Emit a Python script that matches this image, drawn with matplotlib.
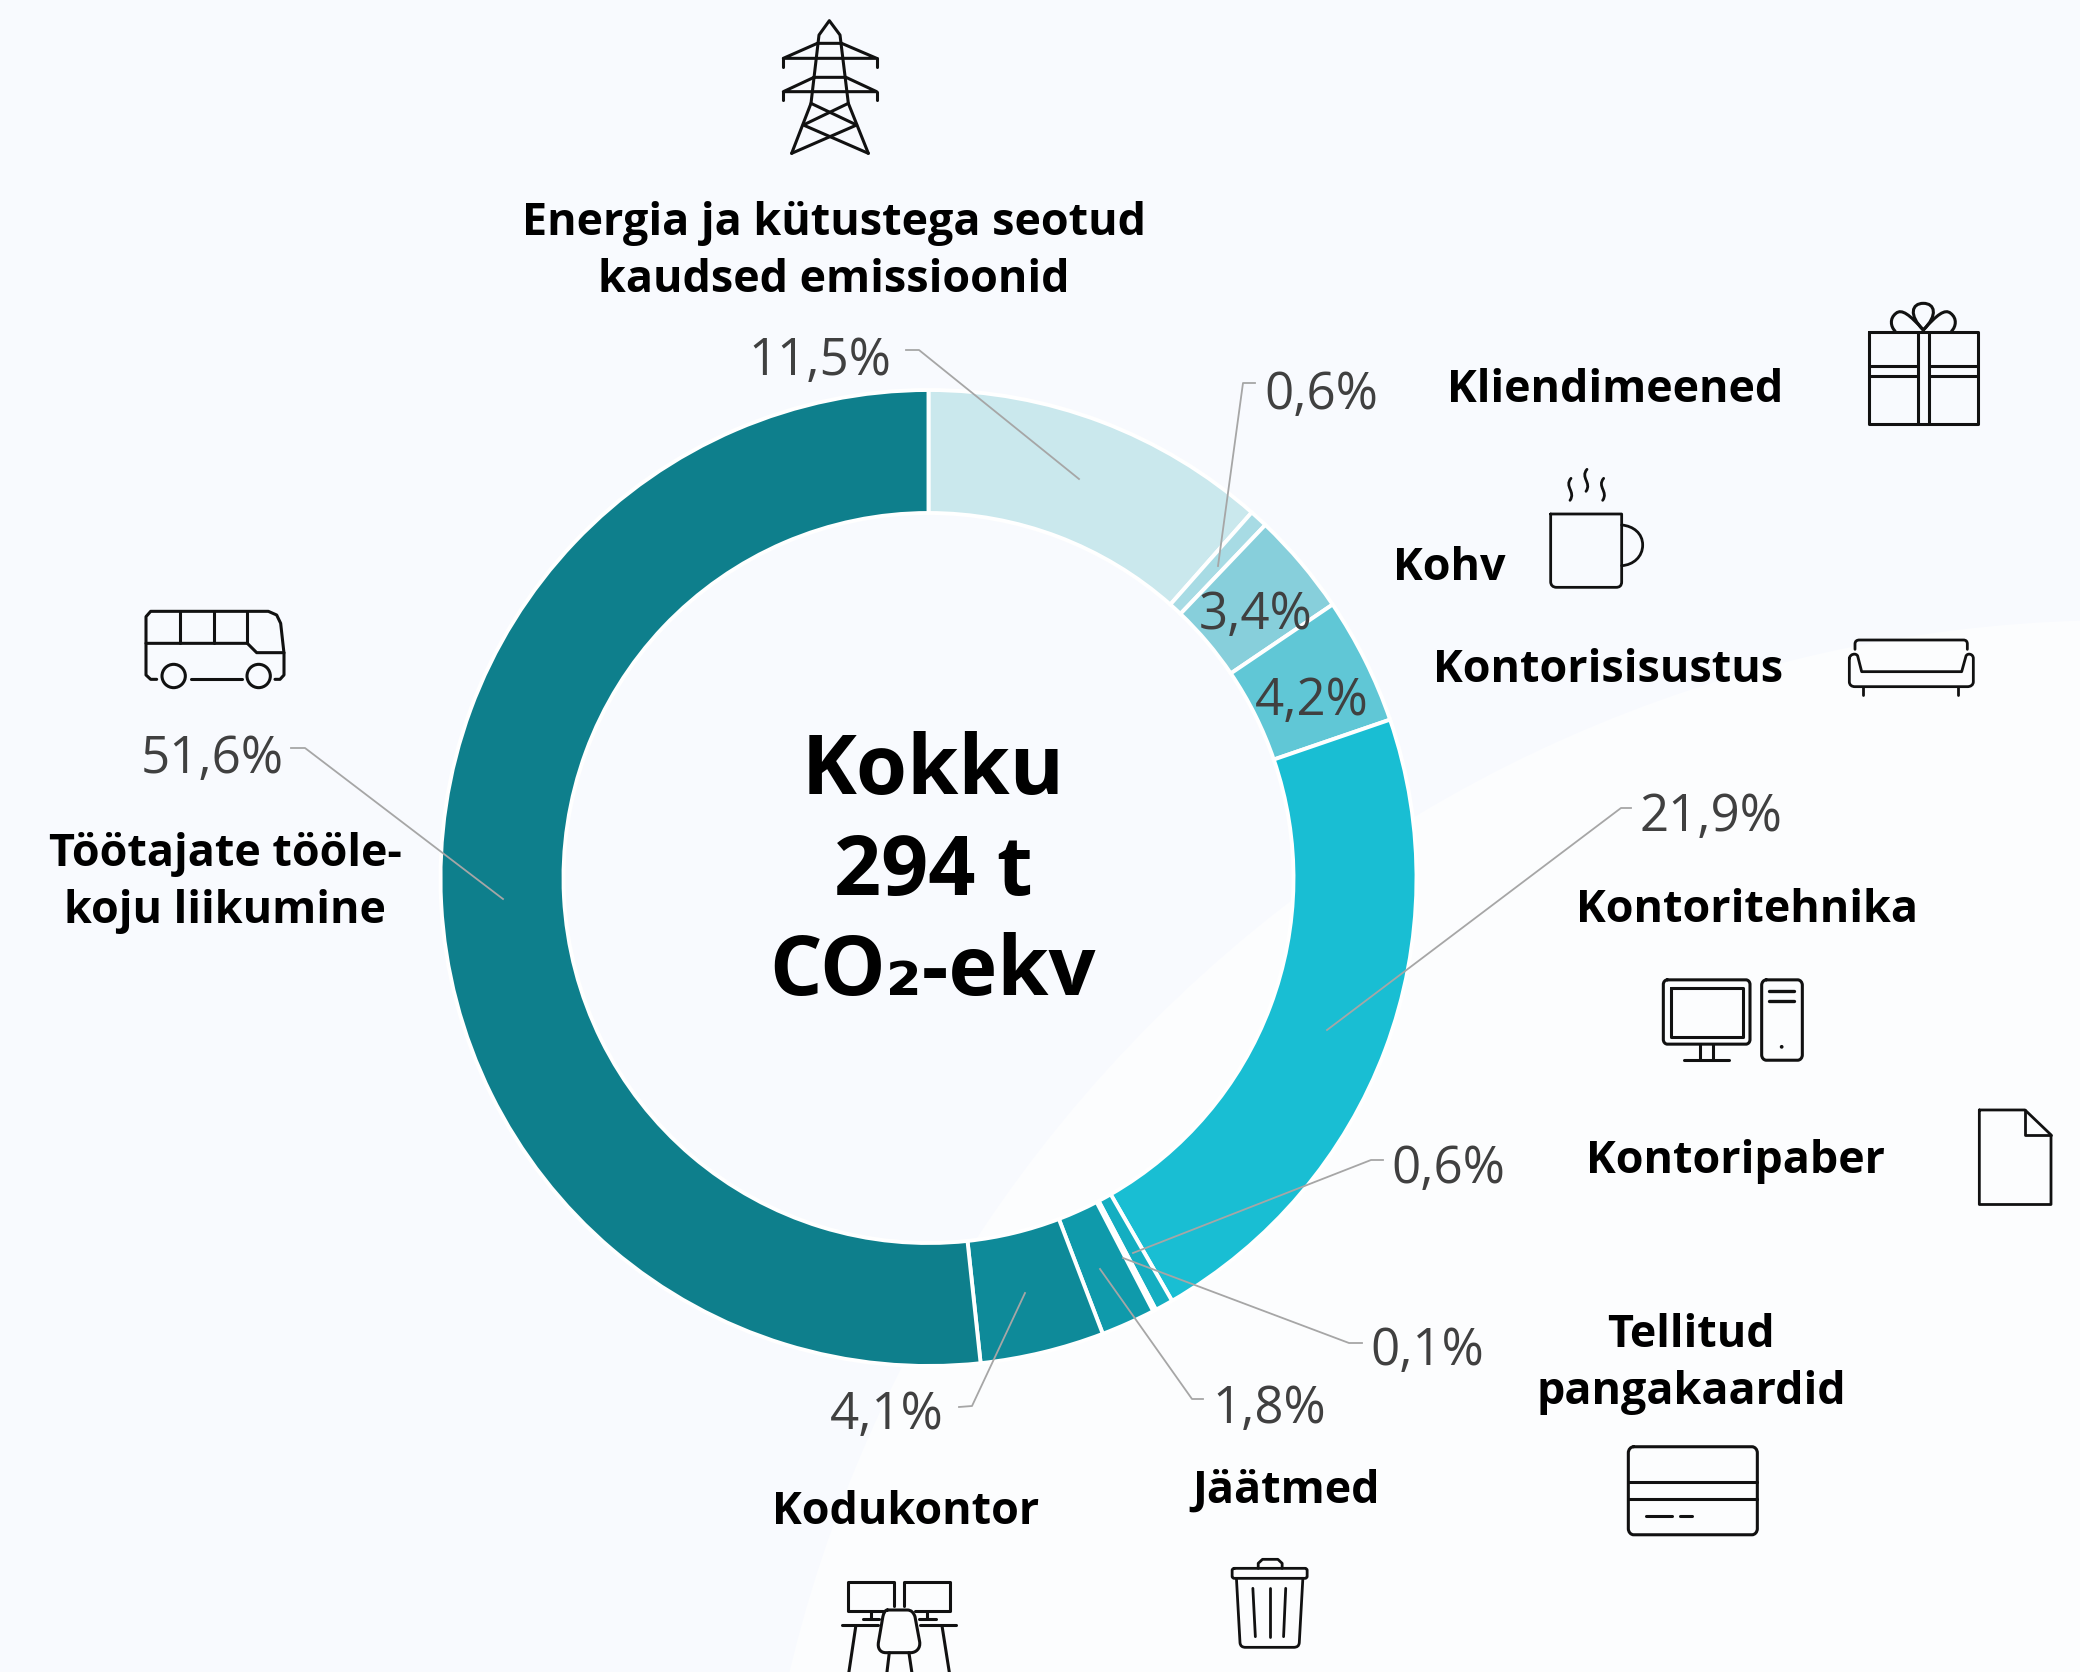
import numpy as np
import matplotlib
matplotlib.use("Agg")
import matplotlib.pyplot as plt
from matplotlib.patches import Circle, PathPatch
from matplotlib.path import Path

W, H = 2080, 1672
FONT = ["Open Sans", "DejaVu Sans"]

# ---- data
shares = [11.5, 0.6, 3.4, 4.2, 21.9, 0.6, 0.1, 1.8, 4.1, 51.6]
share_labels = ["11,5%", "0,6%", "3,4%", "4,2%", "21,9%", "0,6%", "0,1%", "1,8%", "4,1%", "51,6%"]
categories = ["Energia ja kütustega seotud\nkaudsed emissioonid", "Kliendimeened", "Kohv",
              "Kontorisisustus", "Kontoritehnika", "Kontoripaber", "Tellitud\npangakaardid",
              "Jäätmed", "Kodukontor", "Töötajate tööle-\nkoju liikumine"]
colors = ["#CAE8ED", "#A7DBE4", "#87CFDB", "#60C7D6", "#19BED3",
          "#14AEC1", "#12A5B6", "#0F9AAB", "#0E8A99", "#0E7F8C"]
total_text = "Kokku\n294 t\nCO₂-ekv"

# ---- layout (pixels)
CX, CY, R_OUT, R_IN = 928.5, 878, 488, 365
pct_pos = [(820, 361), (1321, 395), (1256, 615), (1312, 701), (1711, 818),
           (1448, 1169), (1427, 1352), (1269, 1410), (887, 1416), (212, 759)]
cat_pos = [(834, 252, "center"), (1783, 390, "right"), (1449, 569, "center"), (1783, 670, "right"),
           (1747, 910, "center"), (1736, 1161, "center"), (1691, 1364, "center"),
           (1286, 1491, "center"), (906, 1513, "center"), (225, 883, "center")]
leaders = [[(906, 350), (919, 350), (1079, 479)],
           [(1255, 383), (1243, 383), (1218, 566)],
           None, None,
           [(1631, 808), (1621, 808), (1327, 1030)],
           [(1383, 1160), (1371, 1160), (1133, 1253)],
           [(1362, 1343), (1349, 1343), (1123, 1258)],
           [(1203, 1399), (1192, 1399), (1100, 1269)],
           [(1025, 1293), (972, 1406), (959, 1407)],
           [(291, 748), (305, 748), (503, 899)]]

fig = plt.figure(figsize=(W / 100, H / 100), dpi=100, facecolor="#F8FAFE")

# background + soft lighter disc
bg = fig.add_axes([0, 0, 1, 1])
bg.set_xlim(0, W); bg.set_ylim(H, 0); bg.axis("off")
bg.add_patch(Circle((2122, 1990), 1370, fc="#FCFDFE", ec="none"))

# donut
span = 1.25 * R_OUT
pie_ax = fig.add_axes([(CX - span) / W, 1 - (CY + span) / H, 2 * span / W, 2 * span / H])
pie_ax.patch.set_alpha(0)
pie_ax.pie(shares, colors=colors, startangle=90, counterclock=False, radius=1,
           wedgeprops=dict(width=1 - R_IN / R_OUT, edgecolor="white", linewidth=2.8))

# overlay in pixel coordinates
ax = fig.add_axes([0, 0, 1, 1])
ax.set_xlim(0, W); ax.set_ylim(H, 0); ax.axis("off"); ax.patch.set_alpha(0)

for seg in leaders:
    if seg:
        ax.plot(*zip(*seg), color="#A6A6A6", lw=1.3, solid_joinstyle="round", zorder=3)
for (x, y), s in zip(pct_pos, share_labels):
    ax.text(x, y, s, ha="center", va="center", fontsize=36.7, color="#404040", family=FONT, zorder=4)
for (x, y, ha), s in zip(cat_pos, categories):
    ax.text(x, y, s, ha=ha, va="center", fontsize=32.3, fontweight="bold", color="black",
            family=FONT, linespacing=1.36, multialignment="center", zorder=4)
ax.text(933, 873, total_text, ha="center", va="center", fontsize=59.5, fontweight="bold",
        color="black", family=FONT, linespacing=1.27, zorder=4)


# ---- icons (decor), drawn from crop coordinates
class Icon:
    def __init__(self, ox, oy, sx=3.0, sy=3.0, lw=2.2):
        self.ox, self.oy, self.sx, self.sy, self.lw = ox, oy, sx, sy, lw

    def p(self, pt):
        return (self.ox + pt[0] / self.sx, self.oy + pt[1] / self.sy)

    def line(self, *pts, close=False, lw=None):
        q = [self.p(t) for t in pts]
        if close:
            q.append(q[0])
        ax.plot(*zip(*q), color="#111111", lw=lw or self.lw, solid_capstyle="round",
                solid_joinstyle="round", zorder=5)

    def curve(self, start, *segs, lw=None):
        verts = [self.p(start)]
        codes = [Path.MOVETO]
        for s in segs:
            verts += [self.p(t) for t in s]
            codes += [Path.CURVE4] * 3
        ax.add_patch(PathPatch(Path(verts, codes), fc="none", ec="#111111", lw=lw or self.lw,
                               capstyle="round", joinstyle="round", zorder=5))

    def rrect(self, x0, y0, x1, y1, r, lw=None):
        k = 0.45 * r
        self.curve((x0 + r, y0),
                   ((x0 + r, y0), (x1 - r, y0), (x1 - r, y0)),
                   ((x1 - k, y0), (x1, y0 + k), (x1, y0 + r)),
                   ((x1, y0 + r), (x1, y1 - r), (x1, y1 - r)),
                   ((x1, y1 - k), (x1 - k, y1), (x1 - r, y1)),
                   ((x1 - r, y1), (x0 + r, y1), (x0 + r, y1)),
                   ((x0 + k, y1), (x0, y1 - k), (x0, y1 - r)),
                   ((x0, y1 - r), (x0, y0 + r), (x0, y0 + r)),
                   ((x0, y0 + k), (x0 + k, y0), (x0 + r, y0)), lw=lw)

    def circle(self, c, r, filled=False, lw=None):
        ax.add_patch(Circle(self.p(c), r / self.sx, fc="#111111" if filled else "none",
                            ec="#111111", lw=lw or self.lw, zorder=5))


# pylon
i = Icon(740, 0)
i.line((155, 460), (213, 310), (237, 105), (268, 62), (300, 105), (325, 310), (385, 460))
i.line((213, 310), (350, 375), (155, 460))
i.line((325, 310), (190, 375), (385, 460))
i.line((232, 130), (305, 130), (410, 175), (130, 175), (232, 130))
i.line((130, 175), (130, 200)); i.line((410, 175), (410, 200))
i.line((222, 232), (318, 232), (410, 275), (130, 275), (222, 232))
i.line((130, 275), (130, 300)); i.line((410, 275), (410, 300))

# gift
i = Icon(1500, 280)
i.line((1108, 155), (1435, 155), (1435, 432), (1108, 432), close=True)
i.line((1255, 155), (1255, 432)); i.line((1287, 155), (1287, 432))
i.line((1108, 258), (1255, 258)); i.line((1108, 288), (1255, 288))
i.line((1287, 258), (1435, 258)); i.line((1287, 288), (1435, 288))
i.curve((1270, 150), ((1225, 105), (1235, 70), (1270, 70)), ((1305, 70), (1315, 105), (1270, 150)))
i.curve((1270, 150), ((1230, 105), (1205, 85), (1188, 100)), ((1168, 115), (1172, 140), (1185, 153)))
i.curve((1270, 150), ((1310, 105), (1335, 85), (1352, 100)), ((1372, 115), (1368, 140), (1355, 153)))

# mug
i.curve((152, 702), ((152, 702), (365, 702), (365, 702)), ((365, 702), (365, 905), (365, 905)),
        ((365, 918), (358, 922), (348, 922)), ((348, 922), (170, 922), (170, 922)),
        ((158, 922), (152, 915), (152, 905)), ((152, 905), (152, 702), (152, 702)), lw=2)
i.curve((365, 735), ((400, 738), (428, 760), (428, 795)), ((428, 830), (400, 855), (365, 857)), lw=2)
for x, top in [(210, 595), (258, 568), (308, 595)]:
    i.curve((x + 3, top), ((x - 18, top + 25), (x + 18, top + 40), (x, top + 66)), lw=2)

# sofa
i.curve((1065, 1108), ((1065, 1108), (1065, 1092), (1065, 1092)), ((1065, 1084), (1070, 1080), (1078, 1080)),
        ((1078, 1080), (1390, 1080), (1390, 1080)), ((1398, 1080), (1402, 1084), (1402, 1092)),
        ((1402, 1092), (1402, 1108), (1402, 1108)), lw=2)
i.curve((1048, 1135), ((1050, 1122), (1068, 1118), (1073, 1128)), ((1073, 1128), (1085, 1175), (1085, 1175)),
        ((1085, 1175), (1385, 1175), (1385, 1175)), ((1385, 1175), (1398, 1128), (1398, 1128)),
        ((1403, 1118), (1420, 1122), (1420, 1135)), ((1420, 1135), (1420, 1205), (1420, 1205)),
        ((1420, 1215), (1412, 1220), (1402, 1220)), ((1402, 1220), (1065, 1220), (1065, 1220)),
        ((1055, 1220), (1048, 1215), (1048, 1205)), ((1048, 1205), (1048, 1135), (1048, 1135)), lw=2)
i.line((1090, 1220), (1090, 1245), lw=2); i.line((1375, 1220), (1375, 1245), lw=2)

# computer (this crop was 3x wide, 2.613x high)
i = Icon(1600, 950, sx=3.0, sy=2.613)
i.rrect(190, 78, 450, 246, 12)
i.line((212, 98), (428, 98), (428, 228), (212, 228), close=True)
i.line((300, 246), (300, 285)); i.line((340, 246), (340, 285))
i.line((252, 287), (388, 287))
i.rrect(485, 78, 607, 288, 14)
i.line((507, 107), (582, 107), lw=2.4); i.line((507, 133), (582, 133), lw=2.4)
i.circle((545, 253), 3.5, filled=True, lw=1)

# paper
i.line((1138, 418), (1275, 418), (1353, 483), (1353, 665), (1138, 665), close=True, lw=2)
i.line((1275, 418), (1275, 483), (1353, 483), lw=2)

# card
i.rrect(85, 1298, 472, 1528, 16)
i.line((85, 1390), (472, 1390)); i.line((85, 1435), (472, 1435))
i.line((137, 1478), (216, 1478)); i.line((239, 1478), (277, 1478))

# desk
i = Icon(800, 1500, sx=2.8, sy=3.0)
i.line((262, 318), (262, 245), (135, 245), (135, 333), (232, 333))
i.line((292, 318), (292, 245), (420, 245), (420, 333), (322, 333))
i.line((198, 333), (198, 358)); i.line((175, 358), (222, 358))
i.line((355, 333), (355, 358)); i.line((333, 358), (380, 358))
i.line((118, 376), (218, 376)); i.line((335, 376), (438, 376))
i.line((156, 380), (135, 530)); i.line((398, 380), (420, 530))
i.curve((245, 330), ((245, 330), (300, 330), (300, 330)), ((312, 330), (318, 338), (322, 350)),
        ((322, 350), (335, 425), (335, 425)), ((338, 445), (325, 458), (310, 458)),
        ((310, 458), (240, 458), (240, 458)), ((225, 458), (216, 445), (220, 425)),
        ((220, 425), (232, 350), (232, 350)), ((235, 338), (238, 330), (245, 330)))
i.line((250, 458), (242, 530)); i.line((305, 458), (315, 530))

# trash
i.line((1283, 205), (1283, 190), (1295, 178), (1338, 178), (1350, 190), (1350, 205), lw=2)
i.rrect(1210, 205, 1420, 235, 6, lw=2)
i.curve((1222, 235), ((1222, 235), (1232, 428), (1232, 428)), ((1233, 438), (1238, 442), (1248, 442)),
        ((1248, 442), (1382, 442), (1382, 442)), ((1392, 442), (1397, 438), (1398, 428)),
        ((1398, 428), (1408, 235), (1408, 235)), lw=2)
i.line((1268, 265), (1275, 410), lw=2); i.line((1315, 265), (1315, 410), lw=2)
i.line((1360, 265), (1354, 410), lw=2)

# bus
i = Icon(120, 590)
i.line((110, 268), (92, 268), (78, 255), (78, 80), (92, 64), (445, 64), (470, 75), (482, 100),
       (492, 190), (492, 255), (480, 268), (465, 268))
for x in (181, 283, 382):
    i.line((x, 64), (x, 160))
i.line((78, 160), (382, 160), (410, 188), (492, 188))
i.circle((161, 258), 35); i.circle((416, 258), 35)
i.line((212, 268), (367, 268))

fig.savefig("out.png", dpi=100, facecolor=fig.get_facecolor())
